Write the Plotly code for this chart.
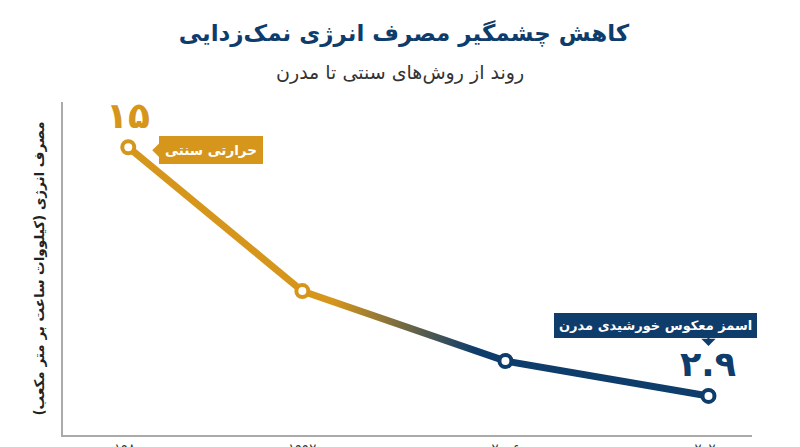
import plotly.graph_objects as go

# data
years = [1980, 1992, 2006, 2020]
year_labels = ["۱۹۸۰", "۱۹۹۲", "۲۰۰۶", "۲۰۲۰"]
energy = [15, 8.0, 4.6, 2.9]
first_label = "حرارتی سنتی"
last_label = "اسمز معکوس خورشیدی مدرن"
first_value_text = "۱۵"
last_value_text = "۲.۹"

ORANGE = "#D6961C"
NAVY = "#0E3C6B"
FONT = "DejaVu Sans"
LW = 7
half_w = 0.18  # half line width in y units, for the gradient band

# page body adds an 8px offset, so the figure is 8px smaller than the window
W, H = 792, 439

fig = go.Figure()

# traditional segment
fig.add_trace(go.Scatter(x=years[:2], y=energy[:2], mode="lines",
                         line=dict(color=ORANGE, width=LW), hoverinfo="skip"))

# transition segment drawn as a thin band with a horizontal gradient
fig.add_trace(go.Scatter(
    x=[years[1], years[2], years[2], years[1]],
    y=[energy[1] + half_w, energy[2] + half_w, energy[2] - half_w, energy[1] - half_w],
    mode="lines", line=dict(width=0), fill="toself",
    fillgradient=dict(type="horizontal", colorscale=[[0, ORANGE], [0.15, ORANGE], [0.85, NAVY], [1, NAVY]]),
    hoverinfo="skip"))

# modern segment
fig.add_trace(go.Scatter(x=years[2:], y=energy[2:], mode="lines",
                         line=dict(color=NAVY, width=LW), hoverinfo="skip"))

# points
fig.add_trace(go.Scatter(
    x=years, y=energy, mode="markers",
    marker=dict(size=12, color="white",
                line=dict(color=[ORANGE, ORANGE, NAVY, NAVY], width=4))))

annotations = [
    # big value labels
    dict(x=years[0], y=energy[0], text=f"<b>{first_value_text}</b>", showarrow=False,
         yshift=32, font=dict(family=FONT, size=36, color=ORANGE)),
    dict(x=years[-1], y=energy[-1], text=f"<b>{last_value_text}</b>", showarrow=False,
         yshift=32, font=dict(family=FONT, size=35, color=NAVY)),
    # orange callout with left pointer
    dict(x=years[0], y=energy[0], text=f"<b>{first_label}</b>", showarrow=True,
         ax=83, ay=0, yshift=-3, standoff=24, arrowhead=1, arrowsize=1.2, arrowwidth=2,
         arrowcolor=ORANGE, bgcolor=ORANGE, bordercolor=ORANGE, borderpad=5,
         font=dict(family=FONT, size=13.5, color="white")),
    # navy callout
    dict(x=years[-1], y=energy[-1], text=f"<b>{last_label}</b>", showarrow=False,
         xshift=-53, yshift=70, bgcolor=NAVY, bordercolor=NAVY, borderpad=4,
         font=dict(family=FONT, size=13, color="white")),
    # navy pointer
    dict(x=years[-1], y=energy[-1], text="", showarrow=True, ax=0, ay=-10,
         yshift=50, standoff=0, arrowhead=1, arrowsize=1.2, arrowwidth=2,
         arrowcolor=NAVY),
    # subtitle
    dict(x=0.489, y=1.09, xref="paper", yref="paper", showarrow=False,
         xanchor="center", yanchor="middle",
         text="روند از روش‌های سنتی تا مدرن",
         font=dict(family=FONT, size=19, color="#333333")),
]

fig.update_layout(
    width=W, height=H,
    margin=dict(l=55, r=48, t=94, b=12),
    paper_bgcolor="white", plot_bgcolor="white",
    showlegend=False,
    font=dict(family=FONT, color="#333333"),
    title=dict(text="<b>کاهش چشمگیر مصرف انرژی نمک‌زدایی</b>",
               x=0.5, xanchor="center", y=1 - 25 / H, yanchor="middle",
               font=dict(family=FONT, size=23, color=NAVY)),
    annotations=annotations,
)

fig.update_xaxes(range=[1975.5, 2023], tickvals=years, ticktext=year_labels,
                 showgrid=False, zeroline=False, showline=True, linecolor="#AAAAAA",
                 linewidth=1.5, automargin=False, ticklabelstandoff=1,
                 tickfont=dict(family=FONT, size=13, color="#333333"))
fig.update_yaxes(range=[1.0, 17.2], showticklabels=False, showgrid=False, zeroline=False,
                 showline=True, linecolor="#AAAAAA", linewidth=1.5, automargin=False,
                 title=dict(text="<b>مصرف انرژی (کیلووات ساعت بر متر مکعب)</b>", standoff=14,
                            font=dict(family=FONT, size=13.5, color="#222222")))

fig.write_html("out.html")
